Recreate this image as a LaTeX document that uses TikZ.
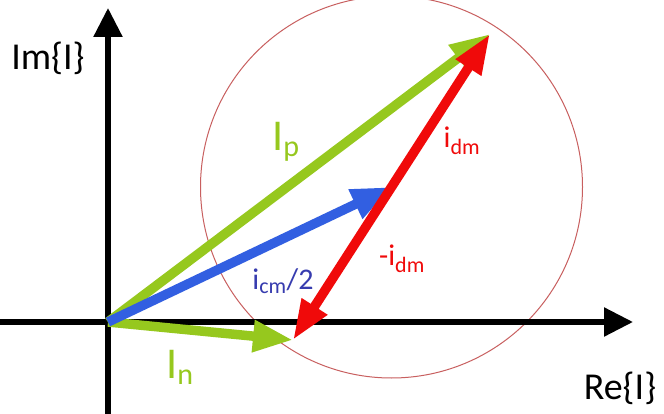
\documentclass[tikz,border=0pt]{standalone}
\usepackage{fontspec}
\setmainfont{Carlito}
\usetikzlibrary{arrows.meta,calc}
\definecolor{vgreen}{RGB}{150,200,30}
\definecolor{vblue}{RGB}{50,95,225}
\definecolor{vred}{RGB}{240,10,10}
\definecolor{circ}{RGB}{200,95,95}
\definecolor{lblue}{RGB}{55,60,175}
\tikzset{
  axis/.style={line width=5.5pt,black,-{Triangle[length=29pt,width=28pt]}},
  phasor/.style={line width=9.5pt,-{Triangle[length=40pt,width=30pt]}},
  lbl/.style={inner sep=0pt,font=\fontsize{30}{34}\selectfont},
  biglbl/.style={inner sep=0pt,font=\fontsize{44}{50}\selectfont},
  axlbl/.style={inner sep=0pt,font=\fontsize{38}{44}\selectfont,black}
}
\begin{document}
\begin{tikzpicture}[x=1pt,y=-1pt]
\useasboundingbox[fill=white] (0,0) rectangle (664,414);
\coordinate (O) at (108,322);
\coordinate (P) at (490,34);
\coordinate (N) at (293,340);
\coordinate (M) at ($(P)!0.5!(N)$);
\coordinate (xs) at (0,322);
\coordinate (xe) at (633,322);
\coordinate (ys) at (108,414);
\coordinate (ye) at (108,8);
% circle
\node[draw=circ,line width=1pt,circle,minimum size=382pt,inner sep=0pt] (C) at (M) {};
% axes
\draw[axis] (xs) -- (xe);
\draw[axis] (ys) -- (ye);
% phasors
\draw[phasor,vgreen] (O) -- (P);
\draw[phasor,vgreen] (O) -- (N);
\draw[phasor,vblue] (O) -- (M);
\draw[line width=9.5pt,vred,{Triangle[length=40pt,width=28pt]}-{Triangle[length=40pt,width=28pt]}] (N) -- (P);
% labels
\node[axlbl] (lim) at (48,58) {Im\{I\}};
\node[axlbl] (lre) at (620,388) {Re\{I\}};
\node[biglbl,text=vgreen] (lip) at (286,142) {I\textsubscript{\fontsize{30}{34}\selectfont p}};
\node[biglbl,text=vgreen] (lin) at (180,367) {I\textsubscript{\fontsize{30}{34}\selectfont n}};
\node[lbl,text=vred] (lidm) at (462,141) {i\textsubscript{\fontsize{22}{26}\selectfont dm}};
\node[lbl,text=vred] (lmidm) at (402,259) {-i\textsubscript{\fontsize{22}{26}\selectfont dm}};
\node[lbl,text=lblue] (licm) at (283,281) {i\textsubscript{\fontsize{22}{26}\selectfont cm}/2};
\end{tikzpicture}
\end{document}
